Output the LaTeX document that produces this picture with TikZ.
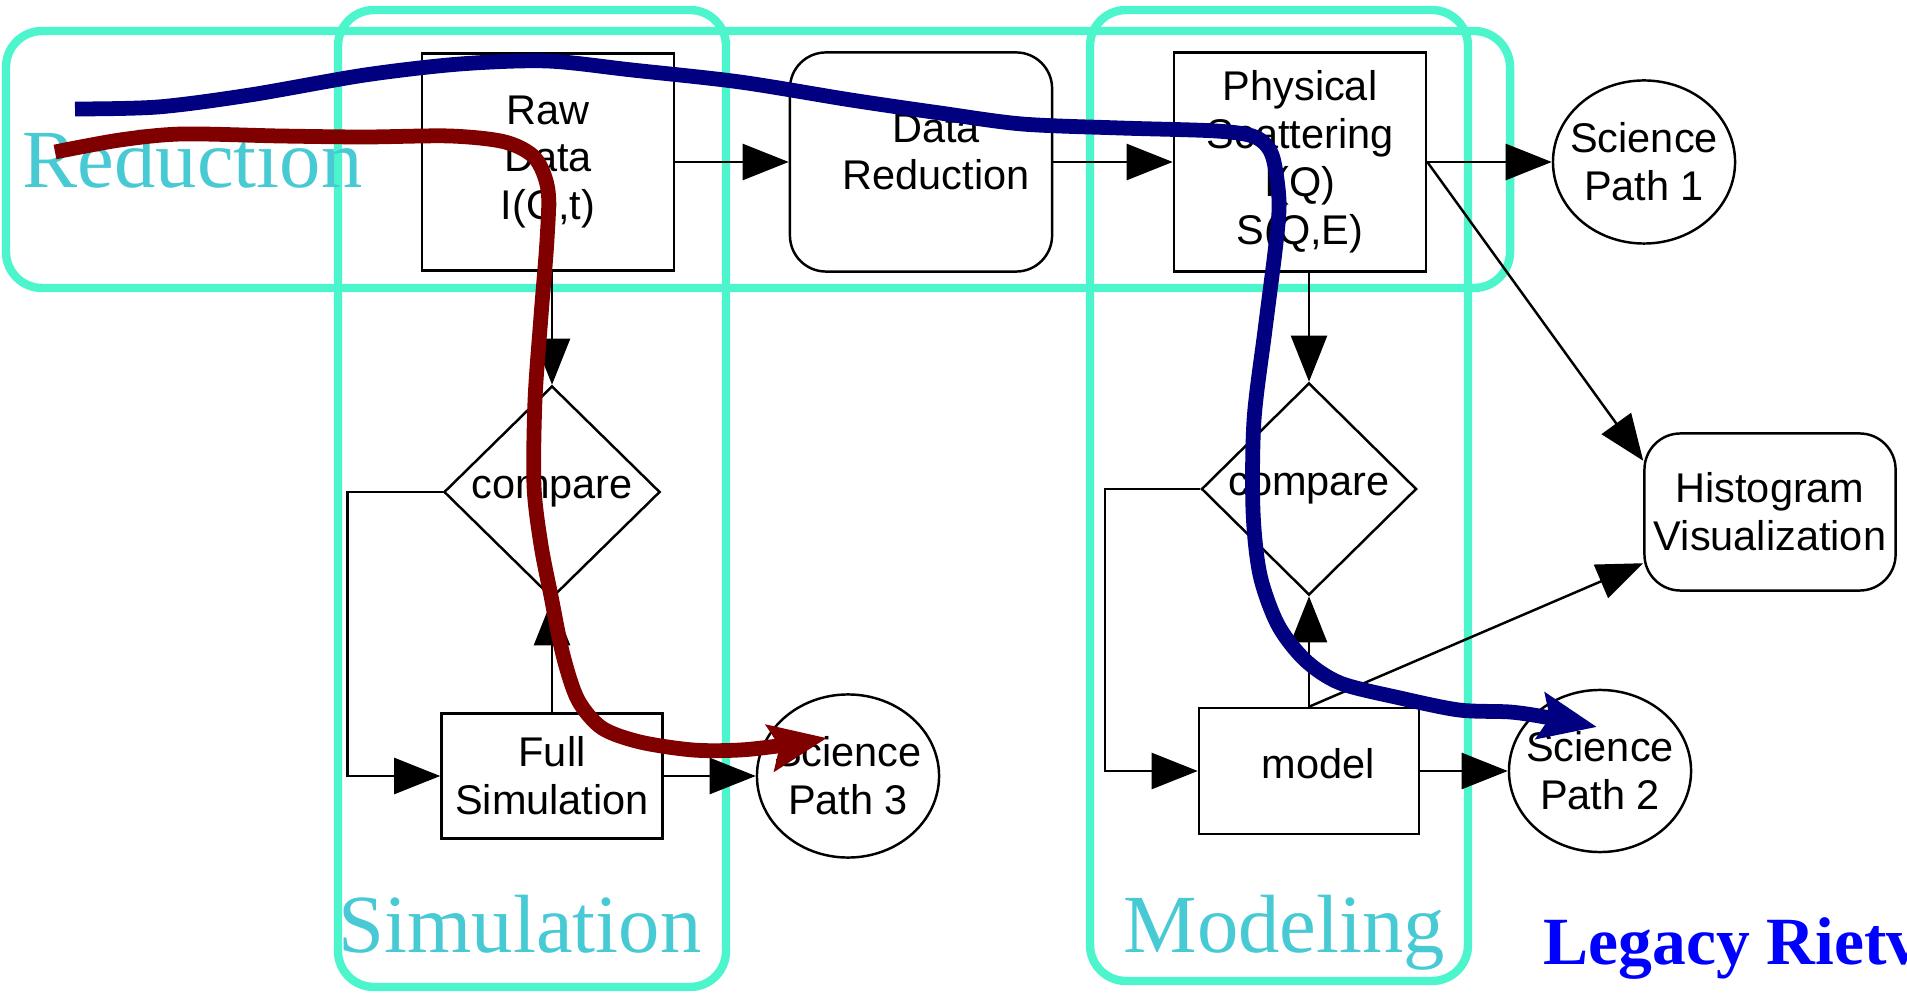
\documentclass[tikz,border=0pt]{standalone}
\usepackage{fontspec}
\setmainfont{Liberation Serif}
\newfontfamily\helv{Liberation Sans}
\usetikzlibrary{arrows.meta, shapes.geometric, positioning}
\definecolor{grp}{RGB}{77,245,204}
\definecolor{grptext}{RGB}{72,202,212}
\definecolor{pathblue}{RGB}{0,0,128}
\definecolor{pathred}{RGB}{128,0,0}
\definecolor{legacy}{RGB}{0,0,255}

\begin{document}
\begin{tikzpicture}[x=0.01cm, y=-0.01cm,
    every node/.style={font=\fontsize{11.8}{13.6}\selectfont\helv, align=center},
    box/.style={draw, line width=0.7pt, inner sep=0pt},
    rbox/.style={box, rounded corners=3.6mm},
    ellip/.style={box, ellipse, minimum width=1.82cm, minimum height=1.63cm},
    diam/.style={box, diamond, minimum width=2.16cm, minimum height=2.12cm},
    link/.style={line width=0.7pt, -{Triangle[length=4.6mm, width=3.6mm]}},
    group/.style={grp, line width=2.4pt, rounded corners=3.6mm},
    grouplabel/.style={font=\fontsize{23.5}{28}\selectfont\rmfamily, text=grptext, inner sep=0pt, anchor=base west},
    trail/.style={line width=4.2pt, -{Stealth[length=5.7mm, width=4.6mm, inset=0.9mm]}}
  ]
  \useasboundingbox (0,0) rectangle (1907,1001);

  % groups
  \draw[group] (6,31) rectangle (1510,288);
  \draw[group] (338,10) rectangle (726,987);
  \draw[group] (1090,10) rectangle (1468,981);

  % top row
  \node[box, minimum width=2.52cm, minimum height=2.17cm] (raw) at (548,162) {Raw\\Data\\I(Q,t)};
  \node[rbox, minimum width=2.62cm, minimum height=2.19cm] (dred) at (921,162) {};
  \node (dredtext) at (936,152) {Data\\Reduction};
  \node[box, minimum width=2.52cm, minimum height=2.19cm] (phys) at (1300,162) {Physical\\Scattering\\I(Q)\\S(Q,E)};
  \node[ellip, label={[align=center]center:{Science\\Path 1}}] (sp1) at (1644,162) {};
  \node[rbox, minimum width=2.51cm, minimum height=1.57cm] (hist) at (1770,512) {Histogram\\Visualization};

  % simulation column
  \node[diam] (cmp1) at (552,492) {compare};
  \node[box, minimum width=2.21cm, minimum height=1.25cm] (fullsim) at (552,776) {Full\\Simulation};
  \node[ellip, label={[align=center]center:{Science\\Path 3}}] (sp3) at (848,776) {};

  % modeling column
  \node[diam, minimum width=2.15cm] (cmp2) at (1309,489) {compare};
  \node[box, minimum width=2.20cm, minimum height=1.26cm] (model) at (1309,771) {};
  \node (modeltext) at (1318,764) {model};
  \node[ellip, minimum height=1.62cm, label={[align=center]center:{Science\\Path 2}}] (sp2) at (1600,771) {};

  \draw[link] (raw) -- (dred);
  \draw[link] (dred) -- (phys);
  \draw[link] (phys) -- (sp1);
  \draw[link] (phys.east) -- (hist.158);
  \draw[link] (cmp1.north |- raw.south) -- (cmp1.north);
  \draw[link] (fullsim) -- (cmp1);
  \draw[link] (cmp1.west) -- ++(-95,0) |- (fullsim.west);
  \draw[link] (fullsim) -- (sp3);
  \draw[link] (cmp2.north |- phys.south) -- (cmp2.north);
  \draw[link] (model) -- (cmp2);
  \draw[link] (cmp2.west) -- ++(-95,0) |- (model.west);
  \draw[link] (model) -- (sp2);
  \draw[link] (model.north) -- (hist.202);

  % group labels
  \node[grouplabel] (lred) at (22,188) {Reduction};
  \node[grouplabel] (lsim) at (338,952) {Simulation};
  \node[grouplabel] (lmod) at (1123,952) {Modeling};
  \node[font=\fontsize{19.2}{22}\selectfont\rmfamily\bfseries, text=legacy, inner sep=0pt, anchor=base west] (legacy) at (1543,964) {Legacy Rietveld};

  % hand drawn trails
  \draw[trail, pathred] plot[smooth, tension=0.5] coordinates {(55,152) (120,140) (182,134) (280,136) (365,137) (450,136) (505,142) (535,158) (548,190) (547,240) (541,316) (535,400) (534,486) (541,545) (551,596) (563,655) (578,700) (602,728) (640,742) (693,750) (740,750) (785,745) (827,738)};
  \draw[trail, pathblue] plot[smooth, tension=0.5] coordinates {(75,109) (158,107) (250,95) (365,75) (460,64) (547,61) (632,70) (740,82) (851,100) (940,113) (1022,124) (1120,128) (1216,131) (1255,137) (1272,155) (1279,200) (1276,243) (1265,330) (1254,420) (1253,511) (1260,575) (1278,625) (1305,660) (1340,683) (1400,698) (1459,710) (1510,712) (1545,717) (1597,727)};
\end{tikzpicture}
\end{document}
